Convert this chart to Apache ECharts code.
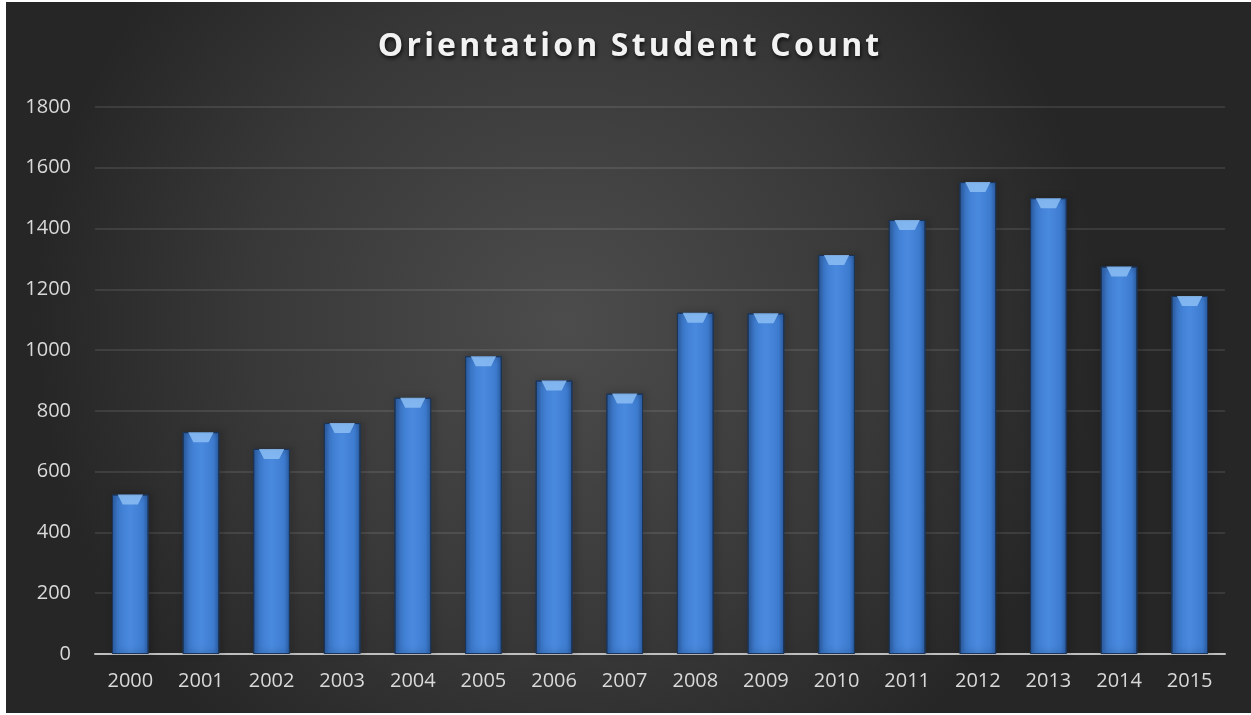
<!DOCTYPE html>
<html>
<head>
<meta charset="utf-8">
<script src="https://cdn.jsdelivr.net/npm/echarts@6/dist/echarts.min.js"></script>
<style>
    html, body { margin: 0; padding: 0; background: #fff; }
    #chart { position: absolute; left: 6px; top: 2px; width: 1245px; height: 711px; }
</style>
</head>
<body>
<div id="chart"></div>
<script>
const years = ["2000", "2001", "2002", "2003", "2004", "2005", "2006", "2007",
    "2008", "2009", "2010", "2011", "2012", "2013", "2014", "2015"];
const students = [525, 730, 675, 760, 843, 980, 900, 857,
    1123, 1121, 1313, 1428, 1553, 1500, 1275, 1178];
const yTicks = { min: 0, max: 1800, step: 200 };
const titleText = "Orientation Student Count";

// spread the title letters out a little, like the original's character spacing
const spaced = titleText.split(" ").map((w) => w.split("").join("\u200a")).join("\u2009 ");

const myChart = echarts.init(document.getElementById("chart"));

const barColor = new echarts.graphic.LinearGradient(0, 0, 1, 0, [
    { offset: 0, color: "#2c5fa6" },
    { offset: 0.15, color: "#3d7bcf" },
    { offset: 0.5, color: "#4a8ade" },
    { offset: 0.85, color: "#3d7bcf" },
    { offset: 1, color: "#2c5fa6" },
]);

myChart.setOption({
    backgroundColor: new echarts.graphic.RadialGradient(0.45, 0.45, 0.75, [
        { offset: 0, color: "#4c4c4c" },
        { offset: 0.6, color: "#383838" },
        { offset: 1, color: "#262626" },
    ]),
    title: {
        text: spaced,
        left: "center",
        top: 24,
        textStyle: {
            color: "#f2f2f2",
            fontFamily: "Open Sans",
            fontWeight: "bold",
            fontSize: 32,
            textShadowColor: "rgba(0,0,0,0.8)",
            textShadowBlur: 4,
            textShadowOffsetX: 1,
            textShadowOffsetY: 2,
        },
    },
    grid: { left: 89, right: 26, top: 105, bottom: 59 },
    xAxis: {
        type: "category",
        data: years,
        axisLine: { lineStyle: { color: "#bfbfbf", width: 2 } },
        axisTick: { show: false },
        axisLabel: {
            color: "#d9d9d9",
            fontFamily: "Open Sans",
            fontSize: 20,
            margin: 17,
        },
    },
    yAxis: {
        type: "value",
        min: yTicks.min,
        max: yTicks.max,
        interval: yTicks.step,
        axisLine: { show: false },
        axisTick: { show: false },
        axisLabel: {
            color: "#d9d9d9",
            fontFamily: "Open Sans",
            fontSize: 20,
            margin: 24,
            formatter: (v) => String(v),
        },
        splitLine: { lineStyle: { color: "rgba(255,255,255,0.13)", width: 1.5 } },
    },
    series: [
        {
            type: "bar",
            data: students,
            barWidth: "52%",
            itemStyle: {
                color: barColor,
                borderColor: "#1c3558",
                borderWidth: 1,
                shadowColor: "rgba(0,0,0,0.6)",
                shadowBlur: 6,
                shadowOffsetX: 2,
                shadowOffsetY: 0,
            },
        },
        {
            // bevel highlight at the top of each bar
            type: "pictorialBar",
            data: students,
            symbol: "path://M0,0 L10,0 L8,3 L2,3 Z",
            symbolSize: ["52%", 10],
            symbolPosition: "end",
            itemStyle: { color: "rgba(140,190,245,0.85)" },
            z: 3,
            silent: true,
        },
    ],
});
</script>
</body>
</html>
